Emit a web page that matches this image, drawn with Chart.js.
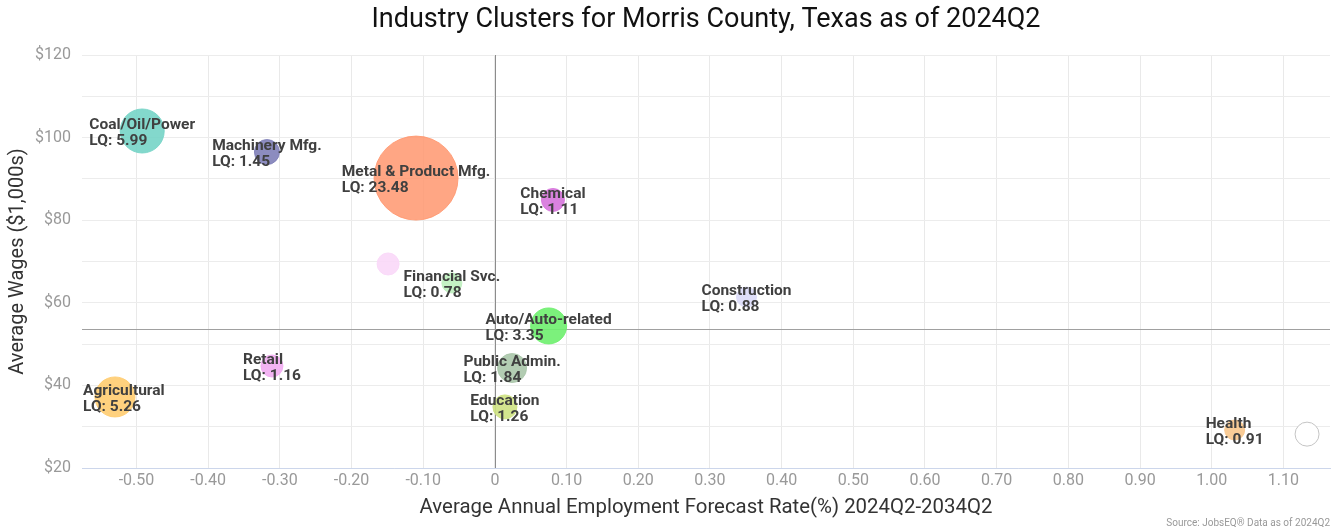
<!DOCTYPE html>
<html>
<head>
<meta charset="utf-8">
<script src="https://cdn.jsdelivr.net/npm/chart.js@4.4.1/dist/chart.umd.min.js"></script>
<style>
  html, body { margin: 0; padding: 0; background: #fff; }
  #wrap { width: 1332px; height: 527px; position: relative; }
</style>
</head>
<body>
<div id="wrap"><canvas id="clusterChart"></canvas></div>
<script>
// industry clusters (blank name = bubble shown without a label)
var clusters = ['Coal/Oil/Power', 'Machinery Mfg.', 'Metal & Product Mfg.', 'Chemical', '',
  'Financial Svc.', 'Auto/Auto-related', 'Public Admin.', 'Education', 'Retail',
  'Agricultural', 'Construction', 'Health', ''];
var forecastRate = [-0.492, -0.318, -0.110, 0.081, -0.149, -0.060, 0.075, 0.024, 0.014, -0.311, -0.530, 0.351, 1.032, 1.133];
var avgWages = [101.6, 96.5, 90.2, 84.9, 69.4, 64.8, 54.4, 44.2, 34.8, 44.7, 37.2, 61.4, 29.2, 28.2];
var lq = [5.99, 1.45, 23.48, 1.11, null, 0.78, 3.35, 1.84, 1.26, 1.16, 5.26, 0.88, 0.91, null];
var employment = [484, 156, 1764, 132, 121, 100, 324, 210, 144, 121, 400, 100, 100, 144];

var xTicks = [-0.5, -0.4, -0.3, -0.2, -0.1, 0, 0.1, 0.2, 0.3, 0.4, 0.5, 0.6, 0.7, 0.8, 0.9, 1.0, 1.1];
var yTicks = [20, 30, 40, 50, 60, 70, 80, 90, 100, 110, 120];
var avgForecast = 0;
var avgWage = 53.7;

var colors = ['rgba(118,212,198,0.9)', 'rgba(128,128,184,0.9)', 'rgba(255,150,110,0.85)', 'rgba(214,116,220,0.9)',
  'rgba(250,216,248,0.9)', 'rgba(190,240,190,0.9)', 'rgba(110,240,110,0.9)', 'rgba(170,198,170,0.9)',
  'rgba(206,226,130,0.9)', 'rgba(242,172,242,0.9)', 'rgba(255,204,112,0.9)', 'rgba(220,220,250,0.9)',
  'rgba(248,198,140,0.9)', 'rgba(255,255,255,1)'];

var points = [];
for (var i = 0; i < clusters.length; i++) {
  points.push({ x: forecastRate[i], y: avgWages[i], r: Math.sqrt(employment[i]) });
}

// average lines behind the bubbles
var avgLines = {
  id: 'avgLines',
  beforeDatasetsDraw: function (chart) {
    var ctx = chart.ctx, xs = chart.scales.x, ys = chart.scales.y, a = chart.chartArea;
    var px = Math.round(xs.getPixelForValue(avgForecast)) + 0.5;
    var py = Math.round(ys.getPixelForValue(avgWage)) + 0.5;
    ctx.save();
    ctx.lineWidth = 1;
    ctx.strokeStyle = '#8c8c8c';
    ctx.beginPath(); ctx.moveTo(px, a.top); ctx.lineTo(px, a.bottom); ctx.stroke();
    ctx.strokeStyle = '#a0a0a0';
    ctx.beginPath(); ctx.moveTo(a.left, py); ctx.lineTo(a.right, py); ctx.stroke();
    ctx.restore();
  }
};

var bubbleLabels = {
  id: 'bubbleLabels',
  afterDatasetsDraw: function (chart) {
    var ctx = chart.ctx, meta = chart.getDatasetMeta(0), a = chart.chartArea;
    ctx.save();
    ctx.font = 'bold 15.5px Roboto';
    ctx.fillStyle = '#404040';
    ctx.textBaseline = 'middle';
    ctx.textAlign = 'left';
    meta.data.forEach(function (el, i) {
      if (!clusters[i]) return;
      var lines = [clusters[i], 'LQ: ' + lq[i].toFixed(2)];
      var w = Math.max(ctx.measureText(lines[0]).width, ctx.measureText(lines[1]).width);
      var left = el.x - w / 2;
      if (left < a.left + 1) left = a.left + 1;
      if (left + w > a.right) left = a.right - w;
      ctx.fillText(lines[0], left, el.y - 5.5);
      ctx.fillText(lines[1], left, el.y + 10.5);
    });
    // source note
    ctx.font = '10px Roboto';
    ctx.fillStyle = '#999';
    ctx.textAlign = 'right';
    ctx.textBaseline = 'top';
    ctx.fillText('Source: JobsEQ\u00AE Data as of 2024Q2', 1330, 518);
    ctx.restore();
  }
};

new Chart(document.getElementById('clusterChart'), {
  type: 'bubble',
  data: {
    datasets: [{
      data: points,
      backgroundColor: colors,
      borderColor: colors.map(function (c, i) { return i === colors.length - 1 ? '#c4c4c4' : c; }),
      borderWidth: 1
    }]
  },
  options: {
    responsive: true,
    maintainAspectRatio: false,
    animation: false,
    layout: { autoPadding: false, padding: { top: 0, right: 2, bottom: 0, left: 0 } },
    plugins: {
      legend: { display: false },
      tooltip: { enabled: false },
      title: {
        display: true,
        fullSize: false,
        text: 'Industry Clusters for Morris County, Texas as of 2024Q2',
        color: '#111',
        font: { family: 'Roboto', size: 27, weight: 'normal' },
        padding: { top: 4, bottom: 18.6 }
      }
    },
    scales: {
      x: {
        type: 'linear',
        min: -0.576,
        max: 1.165,
        afterBuildTicks: function (scale) {
          scale.ticks = xTicks.map(function (v) { return { value: v }; });
        },
        afterFit: function (scale) {
          scale.height = 59;
          scale.paddingLeft = 0;
          scale.paddingRight = 0;
        },
        border: { display: true, color: '#ccd6eb' },
        grid: { color: '#e9e9e9', drawTicks: false },
        ticks: {
          color: '#999',
          font: { family: 'Roboto', size: 16 },
          padding: 3,
          maxRotation: 0,
          autoSkip: false,
          callback: function (v) { return v === 0 ? '0' : v.toFixed(2); }
        },
        title: {
          display: true,
          text: 'Average Annual Employment Forecast Rate(%) 2024Q2-2034Q2',
          color: '#333',
          font: { family: 'Roboto', size: 20.4 },
          padding: { top: 0, bottom: 7 }
        }
      },
      y: {
        type: 'linear',
        min: 20,
        max: 120,
        afterBuildTicks: function (scale) {
          scale.ticks = yTicks.map(function (v) { return { value: v }; });
        },
        afterFit: function (scale) {
          scale.width = 82;
          scale.paddingTop = 0;
          scale.paddingBottom = 0;
        },
        border: { display: false },
        grid: { color: '#ececec', drawTicks: false },
        ticks: {
          color: '#999',
          font: { family: 'Roboto', size: 16 },
          padding: 11,
          autoSkip: false,
          callback: function (v) { return v % 20 === 0 ? '$' + v : ''; }
        },
        title: {
          display: true,
          text: 'Average Wages ($1,000s)',
          color: '#333',
          font: { family: 'Roboto', size: 20 },
          padding: { top: 6, bottom: 0 }
        }
      }
    }
  },
  plugins: [avgLines, bubbleLabels]
});
</script>
</body>
</html>
